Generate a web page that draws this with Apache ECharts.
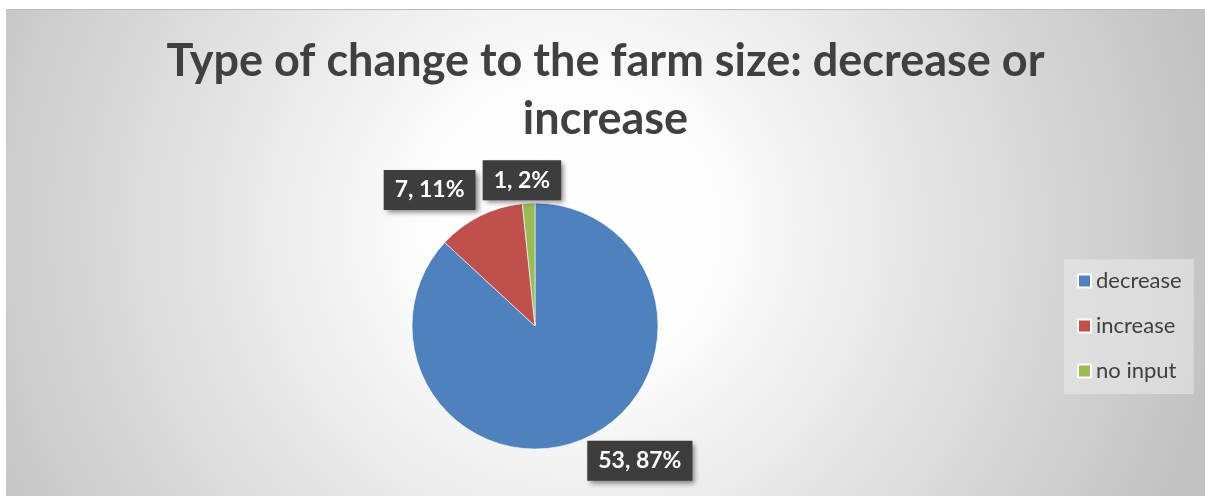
<!DOCTYPE html>
<html>
<head>
<meta charset="utf-8">
<script src="https://cdn.jsdelivr.net/npm/echarts@6/dist/echarts.min.js"></script>
<style>
  html, body { margin: 0; padding: 0; background: #ffffff; }
  #chart {
    position: absolute; left: 6px; top: 9px;
    width: 1199px; height: 487px;
    border-top: 1px solid #bcbcbc;
    box-sizing: border-box;
  }
</style>
</head>
<body>
<div id="chart"></div>
<script>
// Survey answers: how the farm size changed
const titleText = 'Type of change to the farm size: decrease or\nincrease';
const categories = ['decrease', 'increase', 'no input'];
const counts = [53, 7, 1];
const sliceColors = ['#4f81bd', '#c0504d', '#9bbb59'];
// small nudges for each outside label
const labelOffsets = [[-16, 13], [15, -17], [48, -13]];

const chart = echarts.init(document.getElementById('chart'), null, { renderer: 'canvas' });

const pieData = categories.map((name, i) => ({
  name: name,
  value: counts[i],
  itemStyle: { color: sliceColors[i] }
}));

chart.setOption({
  animation: false,
  backgroundColor: {
    type: 'radial', x: 0.47, y: 0.45, r: 1.35,
    colorStops: [
      { offset: 0, color: '#ffffff' },
      { offset: 0.22, color: '#fdfdfd' },
      { offset: 1, color: '#c2c2c2' }
    ]
  },
  title: {
    text: titleText,
    left: 'center',
    top: 17,
    textStyle: {
      fontFamily: 'Lato',
      fontWeight: 'bold',
      fontSize: 45,
      lineHeight: 58,
      color: '#404040'
    }
  },
  legend: {
    orient: 'vertical',
    left: 1058,
    top: 249,
    padding: [11, 12, 12, 13],
    backgroundColor: 'rgba(232,232,232,0.6)',
    itemWidth: 13,
    itemHeight: 13,
    itemGap: 23,
    icon: 'rect',
    textStyle: { fontFamily: 'Lato', fontSize: 22, color: '#404040' },
    data: categories
  },
  series: [{
    type: 'pie',
    center: [529, 316],
    radius: 123,
    startAngle: 90,
    clockwise: true,
    avoidLabelOverlap: false,
    percentPrecision: 0,
    itemStyle: { borderColor: '#ffffff', borderWidth: 0.6 },
    label: {
      show: true,
      position: 'outside',
      formatter: '{c}, {d}%',
      fontFamily: 'Lato',
      fontWeight: 'bold',
      fontSize: 23,
      lineHeight: 26,
      color: '#ffffff',
      backgroundColor: '#3d3d3d',
      padding: [7, 11, 7, 11],
      shadowColor: 'rgba(0,0,0,0.45)',
      shadowBlur: 5,
      shadowOffsetX: 3,
      shadowOffsetY: 3
    },
    labelLine: { show: false, length: 10, length2: 10 },
    labelLayout: function (params) {
      const off = labelOffsets[params.dataIndex];
      return { dx: off[0], dy: off[1], hideOverlap: false, moveOverlap: false };
    },
    emphasis: { disabled: true },
    data: pieData
  }]
});
</script>
</body>
</html>
